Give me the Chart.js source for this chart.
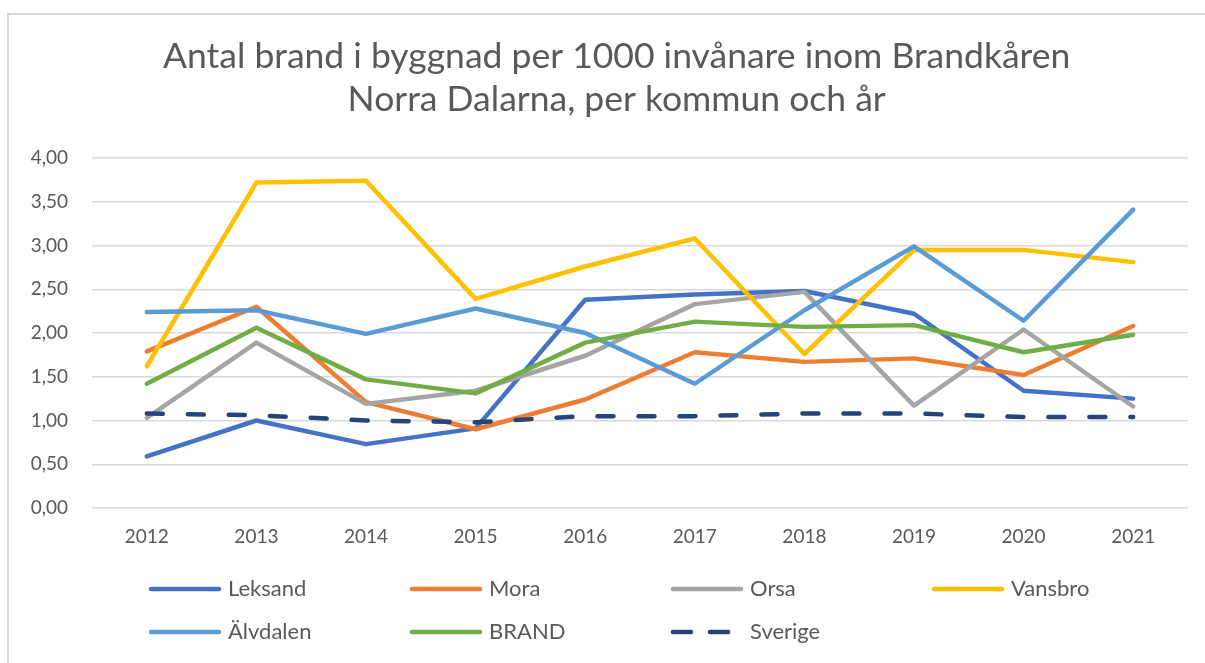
<!DOCTYPE html>
<html>
<head>
<meta charset="utf-8">
<script src="https://cdn.jsdelivr.net/npm/chart.js@4.4.1/dist/chart.umd.min.js"></script>
<style>
  body { margin: 0; background: #fff; overflow: hidden; }
  #wrap { position: absolute; left: 7px; top: 13px; width: 1300px; height: 800px;
          border-left: 2px solid #d9d9d9; border-top: 2px solid #d9d9d9; }
  #chart { position: absolute; left: 0; top: 0; }
</style>
</head>
<body>
<div id="wrap"><canvas id="chart" width="1196" height="648"></canvas></div>
<script>
// år
var years = ["2012", "2013", "2014", "2015", "2016", "2017", "2018", "2019", "2020", "2021"];

// antal brand per 1000 invånare
var leksand  = [0.59, 1.00, 0.73, 0.91, 2.38, 2.44, 2.48, 2.22, 1.34, 1.25];
var mora     = [1.79, 2.30, 1.21, 0.90, 1.24, 1.78, 1.67, 1.71, 1.52, 2.08];
var orsa     = [1.03, 1.89, 1.19, 1.34, 1.74, 2.33, 2.47, 1.17, 2.04, 1.16];
var vansbro  = [1.62, 3.72, 3.74, 2.39, 2.76, 3.08, 1.76, 2.95, 2.95, 2.81];
var alvdalen = [2.24, 2.26, 1.99, 2.28, 2.00, 1.42, 2.26, 2.99, 2.14, 3.41];
var brand    = [1.42, 2.06, 1.47, 1.31, 1.89, 2.13, 2.07, 2.09, 1.78, 1.98];
var sverige  = [1.08, 1.06, 1.00, 0.98, 1.05, 1.05, 1.08, 1.08, 1.04, 1.04];

var names  = ["Leksand", "Mora", "Orsa", "Vansbro", "Älvdalen", "BRAND", "Sverige"];
var series = [leksand, mora, orsa, vansbro, alvdalen, brand, sverige];
var colors = ["#4472C4", "#ED7D31", "#A5A5A5", "#FFC000", "#5B9BD5", "#70AD47", "#264478"];

var textColor = "#595959";
var font = "Lato";

var datasets = series.map(function (d, i) {
  return {
    label: names[i],
    data: d,
    borderColor: colors[i],
    backgroundColor: colors[i],
    borderWidth: 4.5,
    borderCapStyle: "round",
    borderJoinStyle: "round",
    borderDash: names[i] === "Sverige" ? [16, 25] : [],
    pointRadius: 0,
    tension: 0,
    order: series.length - i // senare serier ritas överst, som i Excel
  };
});

// egen förklaring i fyra kolumner
var legendColumns = {
  id: "legendColumns",
  afterDraw: function (chart) {
    var c = chart.ctx;
    c.save();
    chart.data.datasets.forEach(function (ds, i) {
      var x = 142 + (i % 4) * 261;
      var y = 574 + Math.floor(i / 4) * 43;
      c.strokeStyle = ds.borderColor;
      c.lineWidth = 4.5;
      c.lineCap = "round";
      c.setLineDash(ds.borderDash.length ? [18, 19] : []);
      c.beginPath();
      c.moveTo(x, y);
      c.lineTo(x + 68, y);
      c.stroke();
      c.setLineDash([]);
      c.fillStyle = textColor;
      c.font = "22px " + font;
      c.textBaseline = "middle";
      c.fillText(ds.label, x + 77, y);
    });
    c.restore();
  }
};

// titeln ligger lite till höger om mitten i originalet
var pad = "    ";

new Chart(document.getElementById("chart"), {
  type: "line",
  data: { labels: years, datasets: datasets },
  options: {
    responsive: false,
    animation: false,
    layout: { padding: { left: 0, right: 17, top: 0, bottom: 110 } },
    plugins: {
      legend: { display: false },
      tooltip: { enabled: false },
      title: {
        display: true,
        text: [pad + "Antal brand i byggnad per 1000 invånare inom Brandkåren", pad + "Norra Dalarna, per kommun och år"],
        color: textColor,
        font: { family: font, size: 35.5, weight: "normal", lineHeight: "43px" },
        padding: { top: 20, bottom: 37 }
      }
    },
    scales: {
      x: {
        offset: true,
        grid: { display: false, drawTicks: false },
        border: { display: false },
        ticks: { color: textColor, font: { family: font, size: 19 }, padding: 17, maxRotation: 0 },
        afterFit: function (s) { s.height = 45; }
      },
      y: {
        min: 0,
        max: 4,
        grid: { color: "#d9d9d9", lineWidth: 1.5, drawTicks: false },
        border: { display: false },
        ticks: {
          stepSize: 0.5,
          color: textColor,
          font: { family: font, size: 19 },
          padding: 24,
          callback: function (v) { return v.toFixed(2).replace(".", ","); }
        },
        afterFit: function (s) { s.width = 83; }
      }
    }
  },
  plugins: [legendColumns]
});
</script>
</body>
</html>
